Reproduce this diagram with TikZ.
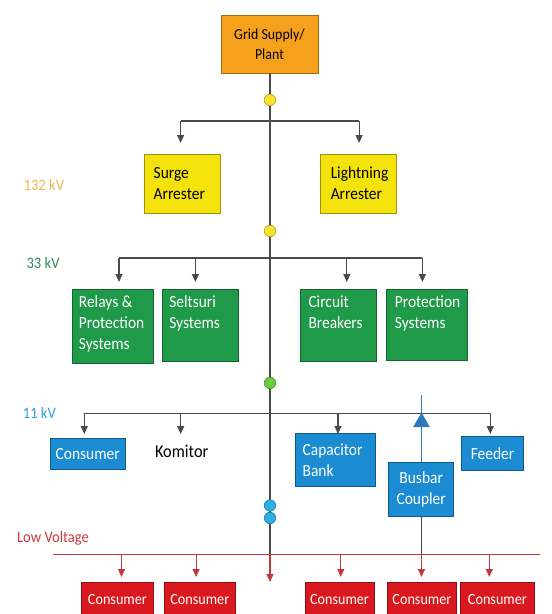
\documentclass[tikz,border=0pt]{standalone}
\usepackage{fontspec}
\setmainfont{Carlito}[FakeStretch=0.91]
\usetikzlibrary{arrows.meta}
\definecolor{cOrange}{HTML}{F6A11C}
\definecolor{cYellow}{HTML}{F3E20C}
\definecolor{cGreen}{HTML}{1F9A48}
\definecolor{cBlue}{HTML}{1B8BD2}
\definecolor{cRed}{HTML}{DA1820}
\definecolor{cLine}{HTML}{4A4A4A}
\definecolor{cRedLine}{HTML}{C0393F}
\definecolor{cBus}{HTML}{2B78BE}
\definecolor{l132}{HTML}{E9B850}
\definecolor{l33}{HTML}{2E8B57}
\definecolor{l11}{HTML}{2AA0D8}
\definecolor{lLV}{HTML}{C8383F}
\definecolor{dotY}{HTML}{F7E32E}
\definecolor{dotG}{HTML}{6CCB3A}
\definecolor{dotB}{HTML}{2CB0E4}
\tikzset{
  box/.style={draw=#1!65!black, fill=#1, line width=0.7pt, inner sep=0pt},
  txt/.style={font=\fontsize{17}{20.7}\selectfont, align=left, inner sep=0pt},
  wtxt/.style={txt, text=white},
  line/.style={draw=cLine, line width=1.3pt},
  arr/.style={draw=cLine, line width=1.1pt, -{Triangle[width=7pt,length=8pt]}},
  rarr/.style={draw=cRedLine, line width=1.1pt, -{Triangle[width=7pt,length=8pt]}},
  dot/.style={circle, draw=#1!70!black, fill=#1, line width=0.6pt, minimum size=11.5pt, inner sep=0pt},
  lvl/.style={font=\fontsize{16}{19}\selectfont, anchor=west, inner sep=0pt},
}
\begin{document}
\begin{tikzpicture}[x=1pt,y=-1pt]
\useasboundingbox (0,0) rectangle (552,614);
\clip (0,0) rectangle (552,614);
% main vertical line
\node[box=cOrange, minimum width=96.8pt, minimum height=58pt, font=\fontsize{15.3}{20.5}\selectfont, align=center] (grid) at (269.5,44) {Grid Supply/\\Plant};
\coordinate (lvmain) at (270,554);
\coordinate (endmain) at (270,582);
\draw[line] (grid.south -| lvmain) -- (lvmain);
\draw[rarr] (lvmain) -- (endmain);
% level labels
\node[lvl, text=l132] (L132) at (23.5,185) {132 kV};
\node[lvl, text=l33] (L33) at (26.4,263) {33 kV};
\node[lvl, text=l11] (L11) at (22.7,413) {11 kV};
\node[lvl, text=lLV] (LLV) at (16.9,538) {Low Voltage};
% 132 kV
\coordinate (b1l) at (180.6,121);
\coordinate (b1r) at (359.1,121);
\coordinate (b1lt) at (180.6,143);
\coordinate (b1rt) at (359.1,143);
\draw[line] (b1l) -- (b1r);
\draw[arr] (b1l) -- (b1lt);
\draw[arr] (b1r) -- (b1rt);
\node[box=cYellow, minimum width=76.4pt, minimum height=59pt] (surge) at (182.5,183.5) {};
\node[txt, anchor=west] (surget) at ([xshift=9.5pt]surge.west) {Surge\\Arrester};
\node[box=cYellow, minimum width=76.4pt, minimum height=59pt] (light) at (358.6,183.5) {};
\node[txt, anchor=west] (lightt) at ([xshift=10.5pt]light.west) {Lightning\\Arrester};
% 33 kV
\coordinate (b2a) at (119,258);
\coordinate (b2b) at (195.4,258);
\coordinate (b2c) at (346.8,258);
\coordinate (b2d) at (422.4,258);
\coordinate (b2at) at (119,282);
\coordinate (b2bt) at (195.4,282);
\coordinate (b2ct) at (346.8,282);
\coordinate (b2dt) at (422.4,282);
\draw[line] (b2a) -- (b2d);
\draw[arr] (b2a) -- (b2at);
\draw[arr] (b2b) -- (b2bt);
\draw[arr] (b2c) -- (b2ct);
\draw[arr] (b2d) -- (b2dt);
\node[box=cGreen, minimum width=80.7pt, minimum height=74pt] (relay) at (112.7,326.3) {};
\node[wtxt, anchor=north west] (relayt) at ([xshift=6.7pt,yshift=-7pt]relay.north west) {Relays \&\\Protection\\Systems};
\node[box=cGreen, minimum width=76pt, minimum height=72.5pt] (selt) at (200.7,325.5) {};
\node[wtxt, anchor=north west] (seltt) at ([xshift=6.7pt,yshift=-7pt]selt.north west) {Seltsuri\\Systems};
\node[box=cGreen, minimum width=76.7pt, minimum height=72.5pt] (circ) at (338.3,325.5) {};
\node[wtxt, anchor=north west] (circt) at ([xshift=8.7pt,yshift=-7pt]circ.north west) {Circuit\\Breakers};
\node[box=cGreen, minimum width=81pt, minimum height=71.5pt] (prot) at (427.2,325) {};
\node[wtxt, anchor=north west] (prott) at ([xshift=8.3pt,yshift=-7pt]prot.north west) {Protection\\Systems};
% 11 kV
\coordinate (b3a) at (84.3,413.3);
\coordinate (b3b) at (180.7,413.3);
\coordinate (b3c) at (338,413.3);
\coordinate (b3d) at (490.3,413.3);
\coordinate (b3at) at (84.3,434);
\coordinate (b3bt) at (180.7,434);
\coordinate (b3ct) at (338,434);
\coordinate (b3dt) at (490.3,434);
\draw[line] (b3a) -- (b3d);
\draw[arr] (b3a) -- (b3at);
\draw[arr] (b3b) -- (b3bt);
\draw[arr] (b3c) -- (b3ct);
\draw[arr] (b3d) -- (b3dt);
\node[box=cBlue, minimum width=75.3pt, minimum height=31pt, wtxt, align=center] (cons11) at (87.7,453.8) {Consumer};
\node[txt, font=\fontsize{18}{20}\selectfont] (komitor) at (181.7,451) {Komitor};
\node[box=cBlue, minimum width=80.3pt, minimum height=53pt] (cap) at (335.2,460.3) {};
\node[wtxt, anchor=west] (capt) at ([xshift=7.7pt]cap.west) {Capacitor\\Bank};
\node[box=cBlue, minimum width=62.4pt, minimum height=33.3pt, wtxt, align=center] (feeder) at (492.5,453.3) {Feeder};
\node[box=cBlue, minimum width=65pt, minimum height=53.7pt, wtxt, align=center] (busbar) at (421.2,489.2) {Busbar\\Coupler};
% busbar line with triangle
\coordinate (bustop) at (421.5,395);
\coordinate (buslv) at (421.5,554);
\coordinate (busend) at (421.5,577);
\draw[draw=cBus, line width=1.3pt] (bustop) -- (bustop |- busbar.north);
\fill[cBus] (421.5,412.5) -- (429.8,427) -- (413.2,427) -- cycle;
\draw[line] (bustop |- busbar.south) -- (buslv);
\draw[rarr] (buslv) -- (busend);
% dots on main line
\node[dot=dotY] (d1) at (270,100) {};
\node[dot=dotY] (d2) at (270,231) {};
\node[dot=dotG] (d3) at (270,383) {};
\node[dot=dotB] (d4) at (270,505.5) {};
\node[dot=dotB] (d5) at (270,518) {};
% low voltage bus
\coordinate (lvl) at (52.8,554);
\coordinate (lvr) at (539.7,554);
\draw[draw=cRedLine, line width=1pt] (lvl) -- (lvr);
\coordinate (r1) at (121.5,554);
\coordinate (r2) at (196.1,554);
\coordinate (r3) at (340.8,554);
\coordinate (r5) at (489.3,554);
\coordinate (r1t) at (121.5,577);
\coordinate (r2t) at (196.1,577);
\coordinate (r3t) at (340.8,577);
\coordinate (r5t) at (489.3,577);
\draw[rarr] (r1) -- (r1t);
\draw[rarr] (r2) -- (r2t);
\draw[rarr] (r3) -- (r3t);
\draw[rarr] (r5) -- (r5t);
\tikzset{rbox/.style={box=cRed, minimum height=34pt, text=white, font=\fontsize{15.6}{19}\selectfont}}
\node[rbox, minimum width=71.4pt] (c1) at (117.4,599) {Consumer};
\node[rbox, minimum width=70.8pt] (c2) at (199.8,599) {Consumer};
\node[rbox, minimum width=69.3pt] (c3) at (339.5,599) {Consumer};
\node[rbox, minimum width=69.4pt] (c4) at (421.9,599) {Consumer};
\node[rbox, minimum width=73.9pt] (c5) at (497.4,599) {Consumer};
\end{tikzpicture}
\end{document}
